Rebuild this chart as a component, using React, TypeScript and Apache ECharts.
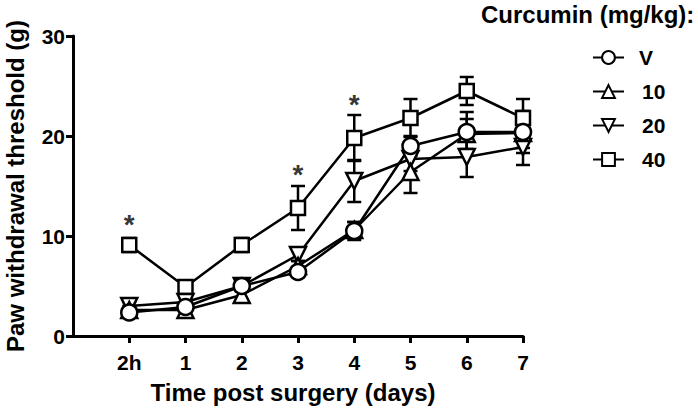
import React, { useEffect, useRef } from "react";
import * as echarts from "echarts";

const xLabels = ["2h", "1", "2", "3", "4", "5", "6", "7"];
const yTicks = [0, 10, 20, 30];

const seriesNames = ["V", "10", "20", "40"];
const vMean = [2.35, 2.9, 5.0, 6.4, 10.5, 19.0, 20.4, 20.4];
const vSem = [0.4, 0.4, 0.5, 0.5, 0.9, 1.0, 2.0, 2.1];
const d10Mean = [2.6, 2.6, 4.1, 7.0, 10.6, 16.4, 20.2, 20.3];
const d10Sem = [0.4, 0.5, 0.5, 0.5, 0.8, 2.1, 1.5, 1.5];
const d20Mean = [3.0, 3.4, 5.0, 8.1, 15.5, 17.7, 17.9, 18.9];
const d20Sem = [0.4, 0.4, 0.5, 0.6, 2.1, 1.2, 2.0, 1.8];
const d40Mean = [9.1, 4.9, 9.1, 12.8, 19.8, 21.8, 24.5, 21.8];
const d40Sem = [0.7, 0.6, 0.7, 2.2, 2.3, 1.9, 1.4, 1.9];

// significance marks: [x index, y value]
const starX = [0, 3, 4];
const starY = [11.9, 16.9, 23.9];

const FONT = "'Liberation Sans', Arial, Helvetica, sans-serif";

export default function App() {
  const ref = useRef<HTMLDivElement>(null);
  useEffect(() => {
    if (!ref.current) return;
    const chart = echarts.init(ref.current, undefined, { renderer: "svg" });

    const means = [vMean, d10Mean, d20Mean, d40Mean];
    const sems = [vSem, d10Sem, d20Sem, d40Sem];
    const symbols = ["circle", "triangle", "triangle", "rect"];
    const symbolSizes = [16, 16, 16, 14];

    const errData: number[][] = [];
    means.forEach((m, si) => {
      m.forEach((v, i) => errData.push([i, v, sems[si][i]]));
    });

    const lineSeries = [3, 2, 1, 0].map((si) => ({
      name: seriesNames[si],
      type: "line",
      z: 3,
      data: means[si].map((v, i) => [i, v]),
      symbol: symbols[si],
      symbolRotate: si === 2 ? 180 : 0,
      symbolSize: symbolSizes[si],
      showAllSymbol: true,
      lineStyle: { color: "#000", width: 2.5 },
      itemStyle: { color: "#fff", borderColor: "#000", borderWidth: 2.5 },
      emphasis: { disabled: true },
      silent: true,
    }));

    chart.setOption({
      animation: false,
      backgroundColor: "#fff",
      textStyle: { fontFamily: FONT },
      title: {
        text: "Curcumin (mg/kg):",
        left: 481,
        top: 2,
        padding: 0,
        textStyle: { fontFamily: FONT, fontSize: 24, fontWeight: "bold", color: "#000" },
      },
      legend: {
        data: seriesNames,
        orient: "vertical",
        left: 592,
        top: 47,
        padding: 0,
        itemWidth: 31,
        itemHeight: 16,
        itemGap: 13,
        selectedMode: false,
        formatter: (name: string) => (name === "V" ? "{v|V}" : "{n|" + name + "}"),
        textStyle: {
          fontFamily: FONT,
          fontSize: 21,
          fontWeight: "bold",
          color: "#000",
          rich: {
            v: { fontFamily: FONT, fontSize: 21, fontWeight: "bold", color: "#000", padding: [0, 0, 0, 10] },
            n: { fontFamily: FONT, fontSize: 21, fontWeight: "bold", color: "#000", padding: [0, 0, 0, 13] },
          },
        },
      },
      grid: { left: 73, right: 175, top: 36, bottom: 78, containLabel: false, outerBoundsMode: "none" },
      xAxis: {
        type: "value",
        min: -1,
        max: 7,
        interval: 1,
        name: "Time post surgery (days)",
        nameLocation: "middle",
        nameGap: 44,
        nameTextStyle: { fontFamily: FONT, fontSize: 24, fontWeight: "bold", color: "#000", padding: [0, 10, 0, 0] },
        axisLine: { show: true, onZero: false, lineStyle: { color: "#000", width: 3 } },
        axisTick: { show: true, length: 7, lineStyle: { color: "#000", width: 3 }, customValues: xLabels.map((_, i) => i) },
        axisLabel: {
          customValues: xLabels.map((_, i) => i),
          formatter: (v: number) => xLabels[v] ?? "",
          fontFamily: FONT,
          fontSize: 21,
          fontWeight: "bold",
          color: "#000",
          margin: 16,
        },
        splitLine: { show: false },
      },
      yAxis: {
        type: "value",
        min: 0,
        max: 30,
        interval: 10,
        name: "Paw withdrawal threshold (g)",
        nameLocation: "middle",
        nameRotate: 90,
        nameGap: 46,
        nameTextStyle: { fontFamily: FONT, fontSize: 24, fontWeight: "bold", color: "#000" },
        axisLine: { show: true, onZero: false, lineStyle: { color: "#000", width: 3 } },
        axisTick: { show: true, length: 7, lineStyle: { color: "#000", width: 3 } },
        axisLabel: {
          fontFamily: FONT,
          fontSize: 21,
          fontWeight: "bold",
          color: "#000",
          margin: 8,
          formatter: (v: number) => (yTicks.includes(v) ? String(v) : ""),
        },
        splitLine: { show: false },
      },
      series: [
        {
          type: "custom",
          name: "err",
          z: 1,
          silent: true,
          data: errData,
          encode: { x: 0, y: 1 },
          renderItem: (params: any, api: any) => {
            const x = api.value(0);
            const y = api.value(1);
            const s = api.value(2);
            const top = api.coord([x, y + s]);
            const bot = api.coord([x, y - s]);
            const hw = 7;
            const style = { stroke: "#000", lineWidth: 2.5, fill: "none" };
            return {
              type: "group",
              children: [
                { type: "line", shape: { x1: top[0], y1: top[1], x2: bot[0], y2: bot[1] }, style },
                { type: "line", shape: { x1: top[0] - hw, y1: top[1], x2: top[0] + hw, y2: top[1] }, style },
                { type: "line", shape: { x1: bot[0] - hw, y1: bot[1], x2: bot[0] + hw, y2: bot[1] }, style },
              ],
            };
          },
        },
        ...lineSeries,
        {
          type: "scatter",
          name: "sig",
          z: 4,
          silent: true,
          symbol: "circle",
          symbolSize: 1,
          itemStyle: { color: "rgba(0,0,0,0)" },
          data: starX.map((x, i) => [x, starY[i]]),
          label: {
            show: true,
            position: "inside",
            formatter: "*",
            fontFamily: FONT,
            fontSize: 28,
            fontWeight: "bold",
            color: "#000",
            offset: [0, 7],
          },
        },
      ],
    });
    return () => chart.dispose();
  }, []);
  return <div ref={ref} style={{ position: "fixed", left: 0, top: 0, width: 698, height: 414 }} />;
}
